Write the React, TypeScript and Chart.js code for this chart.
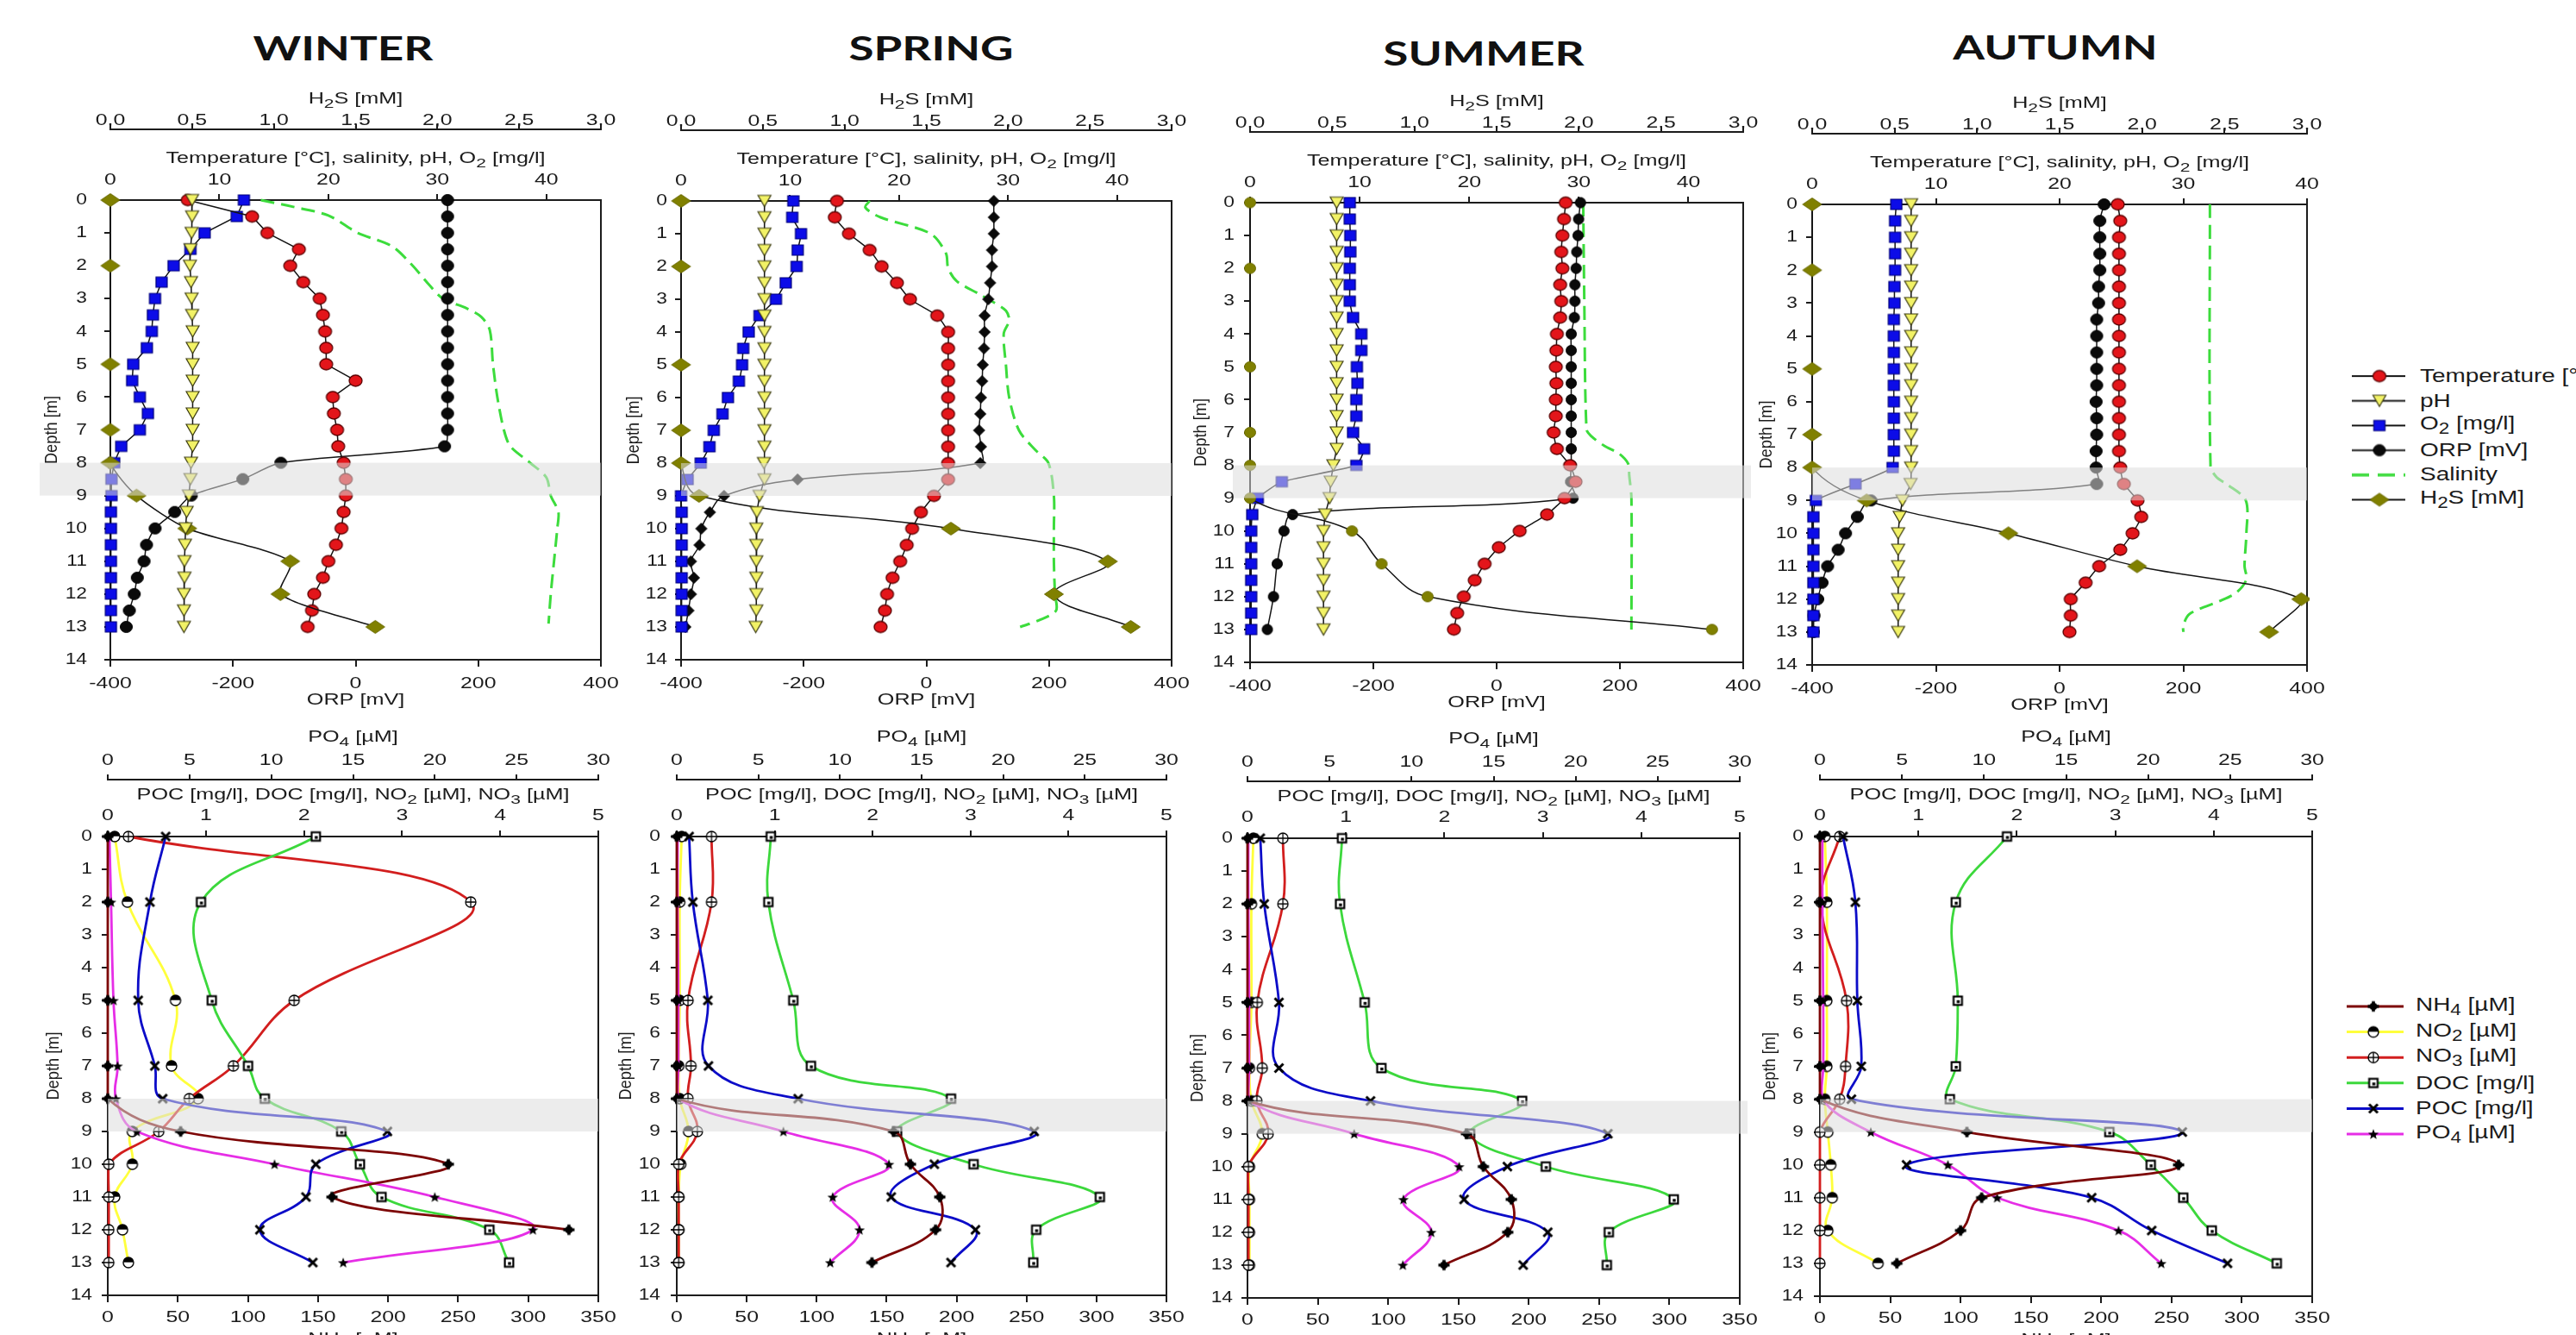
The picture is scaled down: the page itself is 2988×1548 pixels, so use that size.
import React, { useEffect, useRef } from 'react';
import { Chart, registerables } from 'chart.js';

Chart.register(...registerables);

/* ============================ DATA ============================ */
const PROBE_DEPTHS = [0, 0.5, 1, 1.5, 2, 2.5, 3, 3.5, 4, 4.5, 5, 5.5, 6, 6.5, 7, 7.5, 8, 8.5, 9, 9.5, 10, 10.5, 11, 11.5, 12, 12.5, 13];
const SAMPLE_DEPTHS = [0, 2, 5, 7, 8, 9, 10, 11, 12, 13];

const DEPTH_TICKS = [0, 1, 2, 3, 4, 5, 6, 7, 8, 9, 10, 11, 12, 13, 14];
const H2S_TICKS = [0, 0.5, 1, 1.5, 2, 2.5, 3];
const TEMP_TICKS = [0, 10, 20, 30, 40];
const ORP_TICKS = [-400, -200, 0, 200, 400];
const PO4_TICKS = [0, 5, 10, 15, 20, 25, 30];
const CONC_TICKS = [0, 1, 2, 3, 4, 5];
const NH4_TICKS = [0, 50, 100, 150, 200, 250, 300, 350];

const SEASONS = ['WINTER', 'SPRING', 'SUMMER', 'AUTUMN'];

// ---- Winter, probe ----
const WINTER_TEMP = [7.1, 13.0, 14.4, 17.3, 16.5, 17.7, 19.2, 19.5, 19.7, 19.8, 19.8, 22.5, 20.4, 20.5, 20.8, 20.9, 21.4, 21.6, 21.6, 21.4, 21.2, 20.7, 20.0, 19.5, 18.7, 18.5, 18.1];
const WINTER_PH = [7.5, 7.5, 7.45, 7.35, 7.3, 7.4, 7.45, 7.5, 7.55, 7.55, 7.55, 7.55, 7.55, 7.55, 7.55, 7.55, 7.4, 7.35, 7.2, 7.0, 6.9, 6.85, 6.8, 6.8, 6.75, 6.75, 6.75];
const WINTER_O2 = [12.25, 11.6, 8.65, 7.35, 5.8, 4.7, 4.1, 3.9, 3.8, 3.35, 2.1, 2.0, 2.7, 3.45, 2.7, 1.0, 0.35, 0.1, 0.1, 0.05, 0.05, 0.05, 0.05, 0.05, 0.05, 0.05, 0.05];
const WINTER_ORP = [150, 150, 150, 150, 150, 150, 150, 150, 150, 150, 150, 150, 150, 150, 150, 145, -122, -184, -268, -295, -327, -341, -345, -356, -361, -369, -374];
const WINTER_SAL_DEPTHS = [0, 0.2, 0.47, 1, 1.4, 1.95, 2.6, 3.0, 3.3, 3.55, 3.95, 5, 6, 7, 7.5, 8, 8.45, 9, 9.5, 10, 11, 12, 12.9];
const WINTER_SAL = [13.8, 16.7, 20.0, 22.7, 25.8, 27.6, 29.3, 30.5, 32.7, 34.0, 34.8, 35.1, 35.5, 36.1, 36.7, 38.5, 40.0, 40.4, 41.1, 41.0, 40.7, 40.4, 40.2];
const WINTER_H2S = [0, 0, 0, 0, 0, 0.16, 0.47, 1.10, 1.04, 1.62];

// ---- Spring, probe ----
const SPRING_TEMP = [14.3, 14.1, 15.4, 17.3, 18.4, 19.8, 21.0, 23.5, 24.5, 24.5, 24.5, 24.5, 24.5, 24.5, 24.5, 24.5, 24.5, 24.5, 23.2, 22.0, 21.2, 20.7, 20.1, 19.4, 18.9, 18.7, 18.3];
const SPRING_PH = [7.65, 7.65, 7.65, 7.65, 7.65, 7.65, 7.65, 7.65, 7.65, 7.65, 7.65, 7.65, 7.65, 7.65, 7.65, 7.65, 7.6, 7.65, 7.2, 6.95, 6.9, 6.9, 6.9, 6.9, 6.9, 6.9, 6.85];
const SPRING_O2 = [10.3, 10.2, 11.0, 10.7, 10.6, 9.6, 8.7, 7.2, 6.2, 5.7, 5.6, 5.3, 4.3, 3.8, 3.0, 2.6, 1.8, 0.6, 0.0, 0.05, 0.05, 0.05, 0.05, 0.05, 0.05, 0.05, 0.05];
const SPRING_ORP = [110, 110, 110, 107, 107, 104, 101, 95, 95, 94, 92, 91, 89, 88, 86, 89, 88, -210, -330, -353, -367, -370, -384, -379, -384, -388, -393];
const SPRING_SAL_DEPTHS = [0, 0.2, 0.5, 1, 1.6, 2.05, 2.45, 2.85, 3.1, 3.35, 3.65, 4.05, 5, 6, 7, 7.6, 8, 9, 10, 11, 12, 12.5, 12.8, 13];
const SPRING_SAL = [17.3, 16.9, 18.3, 22.9, 24.3, 24.5, 25.3, 27.4, 28.7, 29.8, 30.1, 29.6, 29.8, 30.1, 31.0, 32.5, 33.7, 34.2, 34.2, 34.2, 34.3, 34.4, 32.8, 31.1];
const SPRING_H2S = [0, 0, 0, 0, 0, 0.11, 1.65, 2.61, 2.28, 2.75];

// ---- Summer, probe ----
const SUMMER_TEMP = [28.8, 28.65, 28.5, 28.4, 28.5, 28.3, 28.4, 28.3, 28.0, 27.95, 27.9, 27.95, 27.9, 27.9, 27.7, 28.0, 29.2, 29.7, 28.7, 27.1, 24.6, 22.7, 21.4, 20.5, 19.5, 18.9, 18.6];
const SUMMER_PH = [7.9, 7.9, 7.9, 7.9, 7.9, 7.9, 7.9, 7.9, 7.9, 7.9, 7.9, 7.9, 7.9, 7.9, 7.9, 7.9, 7.6, 7.35, 7.25, 6.85, 6.7, 6.7, 6.7, 6.7, 6.7, 6.7, 6.7];
const SUMMER_O2 = [9.1, 9.1, 9.15, 9.15, 9.1, 9.1, 9.1, 9.4, 10.15, 10.15, 9.75, 9.8, 9.7, 9.7, 9.4, 10.4, 9.7, 2.9, 0.7, 0.2, 0.1, 0.1, 0.1, 0.1, 0.1, 0.1, 0.1];
const SUMMER_ORP = [136, 133, 132, 130, 129, 127, 127, 126, 121, 121, 121, 121, 121, 121, 121, 121, 121, 120, 124, -331, -345, null, -356, null, -362, null, -372];
const SUMMER_SAL_DEPTHS = [0, 3, 6.9, 7.1, 7.4, 7.65, 7.95, 8.3, 9, 13];
const SUMMER_SAL = [30.4, 30.5, 30.7, 31.1, 32.3, 33.7, 34.5, 34.6, 34.8, 34.8];
const SUMMER_H2S = [0, 0, 0, 0, 0, 0, 0.62, 0.80, 1.08, 2.81];

// ---- Autumn, probe ----
const AUTUMN_TEMP = [24.7, 24.9, 24.8, 24.8, 24.8, 24.8, 24.8, 24.8, 24.8, 24.8, 24.8, 24.8, 24.8, 24.8, 24.8, 24.8, 24.9, 25.2, 26.3, 26.6, 25.9, 24.9, 23.2, 22.1, 20.9, 20.9, 20.8];
const AUTUMN_PH = [8.0, 8.0, 8.0, 8.0, 8.0, 8.0, 8.0, 8.0, 8.0, 8.0, 8.0, 8.0, 8.0, 8.0, 8.0, 8.0, 8.0, 7.95, 7.3, 7.07, 6.95, 6.95, 6.95, 6.95, 6.95, 6.95, 6.95];
const AUTUMN_O2 = [6.8, 6.7, 6.7, 6.7, 6.7, 6.65, 6.65, 6.6, 6.6, 6.6, 6.6, 6.6, 6.6, 6.6, 6.6, 6.6, 6.5, 3.5, 0.3, 0.1, 0.1, 0.1, 0.1, 0.1, 0.1, 0.1, 0.1];
const AUTUMN_ORP = [72, 65, 65, 65, 65, 63, 63, 60, 60, 60, 60, 60, 59, 60, 60, 59, 59, 60, -305, -327, -346, -358, -375, -384, -391, -397, -398];
const AUTUMN_SAL_DEPTHS = [0, 7.95, 8.3, 8.5, 9, 10, 11, 11.4, 11.8, 12.05, 12.45, 12.8, 13];
const AUTUMN_SAL = [32.15, 32.2, 32.7, 33.5, 35.05, 35.1, 34.95, 35.1, 34.3, 33.0, 30.5, 30.0, 30.0];
const AUTUMN_H2S = [0, 0, 0, 0, 0, 0.33, 1.19, 1.97, 2.965, 2.77];

// ---- Water samples (at SAMPLE_DEPTHS) ----
const WINTER_NH4 = [0, 0, 0, 0, 0, 52, 243, 160, 329, null];
const WINTER_NO2 = [0.07, 0.2, 0.69, 0.65, 0.92, 0.25, 0.25, 0.07, 0.15, 0.21];
const WINTER_NO3 = [0.21, 3.70, 1.90, 1.28, 0.83, 0.52, 0.01, 0.01, 0.01, 0.01];
const WINTER_DOC = [2.12, 0.95, 1.06, 1.43, 1.60, 2.38, 2.57, 2.79, 3.89, 4.09];
const WINTER_POC = [0.59, 0.43, 0.31, 0.48, 0.56, 2.85, 2.12, 2.02, 1.55, 2.09];
const WINTER_PO4 = [0.1, 0.2, 0.35, 0.6, 0.5, 1.77, 10.2, 20.0, 26.0, 14.4];

const SPRING_NH4 = [0, 0, 0, 0, 0, 155, 167, 188, 185, 139.5];
const SPRING_NO2 = [0.05, 0.03, 0.03, 0.02, 0.03, 0.12, 0.04, 0.02, 0.02, 0.02];
const SPRING_NO3 = [0.355, 0.355, 0.115, 0.145, 0.115, 0.21, 0.02, 0.02, 0.02, 0.02];
const SPRING_DOC = [0.96, 0.935, 1.19, 1.37, 2.80, 2.25, 3.03, 4.32, 3.67, 3.64];
const SPRING_POC = [0.126, 0.164, 0.317, 0.324, 1.24, 3.65, 2.63, 2.19, 3.05, 2.80];
const SPRING_PO4 = [0.05, 0.05, 0.1, 0.1, 0.1, 6.53, 13.0, 9.55, 11.2, 9.4];

const SUMMER_NH4 = [0, 0, 0, 0, 0, 155.7, 167.7, 187.6, 185, 139.7];
const SUMMER_NO2 = [0.06, 0.04, 0.04, 0.02, 0.04, 0.15, 0.02, 0.02, 0.02, 0.02];
const SUMMER_NO3 = [0.36, 0.36, 0.10, 0.15, 0.095, 0.21, 0.01, 0.01, 0.01, 0.01];
const SUMMER_DOC = [0.96, 0.94, 1.19, 1.36, 2.79, 2.26, 3.03, 4.33, 3.67, 3.65];
const SUMMER_POC = [0.13, 0.17, 0.32, 0.32, 1.25, 3.66, 2.64, 2.2, 3.05, 2.8];
const SUMMER_PO4 = [0.05, 0.05, 0.1, 0.1, 0.1, 6.5, 12.9, 9.5, 11.2, 9.47];

const AUTUMN_NH4 = [0, 0, 0, 0, 0, 104.5, 255, 115, 100, 54.7];
const AUTUMN_NO2 = [0.05, 0.07, 0.07, 0.07, 0.05, 0.08, 0.11, 0.125, 0.08, 0.59];
const AUTUMN_NO3 = [0.20, 0.01, 0.27, 0.26, 0.2, 0, 0, 0, 0, 0];
const AUTUMN_DOC = [1.90, 1.38, 1.40, 1.38, 1.32, 2.94, 3.36, 3.69, 3.98, 4.64];
const AUTUMN_POC = [0.235, 0.36, 0.38, 0.42, 0.32, 3.68, 0.88, 2.76, 3.37, 4.14];
const AUTUMN_PO4 = [0.15, 0.15, 0.2, 0.2, 0.15, 3.1, 7.8, 10.8, 18.2, 20.8];

/* ============================ STYLE ============================ */
const FONT = "'Liberation Sans', Arial, Helvetica, sans-serif";
const INK = '#1b1b1b';
const AXIS = '#1c1c1c';
const LINE_BLACK = '#141414';
const SAL_GREEN = '#3cdc3c';
const NH4_C = '#7d0606';
const NO2_C = '#ffff3c';
const NO3_C = '#d21e1e';
const DOC_C = '#3cd83c';
const POC_C = '#0c0cc8';
const PO4_C = '#e62ee6';
const BAND = 'rgba(220,220,220,0.55)';

type MarkerSpec = [string, number, number, string, string, number];
const MK_TEMP: MarkerSpec = ['circle', 15, 13, '#e3151a', '#5a0000', 1.3];
const MK_PH: MarkerSpec = ['triDown', 15, 13, '#f2f266', '#3a3a10', 1.2];
const MK_O2: MarkerSpec = ['square', 13, 12, '#0c0ce8', '#00007a', 1.2];
const MK_ORP: MarkerSpec = ['circle', 14, 13, '#0a0a0a', '#000000', 1];
const MK_ORP_SP: MarkerSpec = ['diamond', 13, 13, '#0a0a0a', '#000000', 1];
const MK_ORP_SU: MarkerSpec = ['circle', 12, 12, '#0a0a0a', '#000000', 1];
const MK_H2S: MarkerSpec = ['diamond', 22, 15, '#808000', '#6a6a00', 1];
const MK_H2S_SU: MarkerSpec = ['circle', 13, 12, '#808000', '#6a6a00', 1];
const MK_NH4: MarkerSpec = ['nh4', 13, 12, '#000000', '#000000', 1];
const MK_NO2: MarkerSpec = ['halfCircle', 12, 12, '#ffffff', '#000000', 1.4];
const MK_NO3: MarkerSpec = ['circlePlus', 12, 12, '#ffffff', '#000000', 1.3];
const MK_DOC: MarkerSpec = ['squareDot', 12, 12, '#000000', '#000000', 1];
const MK_POC: MarkerSpec = ['x', 12, 12, '#000000', '#000000', 3];
const MK_PO4: MarkerSpec = ['star', 13, 12, '#000000', '#000000', 1];

function makeMarker(spec: MarkerSpec): HTMLCanvasElement {
  const [kind, w, h, fill, stroke, lw] = spec;
  const c = document.createElement('canvas');
  const W = Math.ceil(w + lw + 2);
  const H = Math.ceil(h + lw + 2);
  c.width = W;
  c.height = H;
  const g = c.getContext('2d') as CanvasRenderingContext2D;
  const cx = W / 2, cy = H / 2, rx = w / 2, ry = h / 2;
  g.fillStyle = fill;
  g.strokeStyle = stroke;
  g.lineWidth = lw;
  const ell = (r = 1) => { g.beginPath(); g.ellipse(cx, cy, rx * r, ry * r, 0, 0, Math.PI * 2); };
  switch (kind) {
    case 'circle': ell(); g.fill(); g.stroke(); break;
    case 'triDown':
      g.beginPath(); g.moveTo(cx - rx, cy - ry); g.lineTo(cx + rx, cy - ry); g.lineTo(cx, cy + ry); g.closePath();
      g.fill(); g.stroke(); break;
    case 'square': g.beginPath(); g.rect(cx - rx, cy - ry, w, h); g.fill(); g.stroke(); break;
    case 'diamond':
      g.beginPath(); g.moveTo(cx, cy - ry); g.lineTo(cx + rx, cy); g.lineTo(cx, cy + ry); g.lineTo(cx - rx, cy); g.closePath();
      g.fill(); g.stroke(); break;
    case 'circlePlus':
      ell(); g.fill(); g.stroke();
      g.beginPath(); g.moveTo(cx - rx, cy); g.lineTo(cx + rx, cy); g.moveTo(cx, cy - ry); g.lineTo(cx, cy + ry); g.stroke(); break;
    case 'halfCircle':
      ell(); g.fill();
      g.save(); ell(); g.clip(); g.fillStyle = '#000'; g.fillRect(cx - rx, cy - ry, w, ry * 0.95); g.restore();
      ell(); g.stroke(); break;
    case 'squareDot':
      g.fillStyle = '#000'; g.fillRect(cx - rx, cy - ry, w, h);
      g.fillStyle = '#fff'; g.fillRect(cx - rx + 2.2, cy - ry + 2.2, w - 4.4, h - 4.4);
      g.fillStyle = '#000'; g.fillRect(cx - 1.2, cy - 0.6, 3.4, 3.4); break;
    case 'x':
      g.beginPath(); g.moveTo(cx - rx + 1, cy - ry + 1); g.lineTo(cx + rx - 1, cy + ry - 1);
      g.moveTo(cx + rx - 1, cy - ry + 1); g.lineTo(cx - rx + 1, cy + ry - 1); g.stroke(); break;
    case 'star': {
      g.beginPath();
      for (let k = 0; k < 10; k++) {
        const r = k % 2 === 0 ? 1 : 0.42;
        const a = -Math.PI / 2 + (k * Math.PI) / 5;
        const px = cx + Math.cos(a) * rx * r;
        const py = cy + 0.6 + Math.sin(a) * ry * r * 1.05;
        if (k === 0) g.moveTo(px, py); else g.lineTo(px, py);
      }
      g.closePath(); g.fill(); break;
    }
    case 'nh4':
      ell(0.72); g.fill();
      g.lineWidth = 3.6; g.beginPath(); g.moveTo(cx - rx, cy); g.lineTo(cx + rx, cy); g.moveTo(cx, cy - ry); g.lineTo(cx, cy + ry); g.stroke(); break;
  }
  return c;
}

/* ============================ LAYOUT ============================ */
type Geom = { L: number; T: number; R: number; B: number; gap: number; dtx: number; bandL: number; bandR: number };
const GEO_TOP: Geom[] = [
  { L: 128, T: 232, R: 697, B: 765, gap: 27, dtx: 68, bandL: 82, bandR: 0 },
  { L: 790, T: 233, R: 1359, B: 765, gap: 16, dtx: 55, bandL: 0, bandR: 0 },
  { L: 1450, T: 235, R: 2022, B: 768, gap: 18, dtx: 57, bandL: 20, bandR: 9 },
  { L: 2102, T: 237, R: 2676, B: 771, gap: 17, dtx: 53, bandL: 0, bandR: 0 },
];
const GEO_BOT: Geom[] = [
  { L: 125, T: 970, R: 694, B: 1502, gap: 18, dtx: 63, bandL: 0, bandR: 0 },
  { L: 785, T: 970, R: 1353, B: 1502, gap: 19, dtx: 59, bandL: 0, bandR: 0 },
  { L: 1447, T: 972, R: 2018, B: 1505, gap: 17, dtx: 58, bandL: 0, bandR: 9 },
  { L: 2111, T: 970, R: 2682, B: 1503, gap: 19, dtx: 58, bandL: 0, bandR: 0 },
];
const TITLE_POS = [[398, 55], [1080, 55], [1721, 61], [2384, 54]];
const LEFT_W = 110;
const RIGHT_PAD = 40;
const ROW_TOP = { outer: 58, inner: 82, bottom: 62 };
const ROW_BOT = { outer: 64, inner: 66, bottom: 72 };

type Part = { t: string; sub?: boolean };
interface AxisDef {
  id: string; position: 'top' | 'bottom'; weight: number; size: number; min: number; max: number;
  ticks: number[]; fmt: (v: number) => string; tickLen: number; labelOff: number; title: Part[]; titleOff: number;
}
interface SeriesDef {
  axis: string; xs: (number | null)[]; ys: number[]; color: string; width: number; dash?: number[];
  tension: number; marker: MarkerSpec | null;
}

const commaFmt = (v: number) => v.toFixed(1).replace('.', ',');

function topAxes(tempMax: number): AxisDef[] {
  return [
    { id: 'xt2', position: 'top', weight: 2, size: ROW_TOP.outer, min: 0, max: 3, ticks: H2S_TICKS, fmt: commaFmt, tickLen: 6,
      labelOff: -92, title: [{ t: 'H' }, { t: '2', sub: true }, { t: 'S [mM]' }], titleOff: -117 },
    { id: 'xt', position: 'top', weight: 1, size: ROW_TOP.inner, min: 0, max: tempMax, ticks: TEMP_TICKS, fmt: String, tickLen: 7,
      labelOff: -23, title: [{ t: 'Temperature [°C], salinity, pH, O' }, { t: '2', sub: true }, { t: ' [mg/l]' }], titleOff: -47.5 },
    { id: 'x', position: 'bottom', weight: 1, size: ROW_TOP.bottom, min: -400, max: 400, ticks: ORP_TICKS, fmt: String, tickLen: 8,
      labelOff: 28, title: [{ t: 'ORP [mV]' }], titleOff: 47 },
  ];
}
function bottomAxes(): AxisDef[] {
  return [
    { id: 'xt2', position: 'top', weight: 2, size: ROW_BOT.outer, min: 0, max: 30, ticks: PO4_TICKS, fmt: String, tickLen: 6,
      labelOff: -88, title: [{ t: 'PO' }, { t: '4', sub: true }, { t: ' [µM]' }], titleOff: -114.5 },
    { id: 'xt', position: 'top', weight: 1, size: ROW_BOT.inner, min: 0, max: 5, ticks: CONC_TICKS, fmt: String, tickLen: 7,
      labelOff: -23.5, title: [{ t: 'POC [mg/l], DOC [mg/l], NO' }, { t: '2', sub: true }, { t: ' [µM], NO' }, { t: '3', sub: true }, { t: ' [µM]' }], titleOff: -47.5 },
    { id: 'x', position: 'bottom', weight: 1, size: ROW_BOT.bottom, min: 0, max: 350, ticks: NH4_TICKS, fmt: String, tickLen: 8,
      labelOff: 26.5, title: [{ t: 'NH' }, { t: '4', sub: true }, { t: ' [µM]' }], titleOff: 51 },
  ];
}

function topSeries(temp: number[], ph: number[], o2: number[], orp: (number | null)[], salD: number[], sal: number[], h2s: number[],
  orpMk: MarkerSpec, h2sMk: MarkerSpec, tSmooth: number, tTemp: number): SeriesDef[] {
  return [
    { axis: 'xt', xs: ph, ys: PROBE_DEPTHS, color: LINE_BLACK, width: 1.5, tension: 0, marker: MK_PH },
    { axis: 'xt2', xs: h2s, ys: SAMPLE_DEPTHS, color: LINE_BLACK, width: 1.5, tension: tSmooth, marker: h2sMk },
    { axis: 'xt', xs: temp, ys: PROBE_DEPTHS, color: LINE_BLACK, width: 1.5, tension: tTemp, marker: MK_TEMP },
    { axis: 'xt', xs: o2, ys: PROBE_DEPTHS, color: LINE_BLACK, width: 1.5, tension: tTemp, marker: MK_O2 },
    { axis: 'x', xs: orp, ys: PROBE_DEPTHS, color: LINE_BLACK, width: 1.5, tension: tSmooth, marker: orpMk },
    { axis: 'xt', xs: sal, ys: salD, color: SAL_GREEN, width: 3, dash: [16, 8], tension: 0.3, marker: null },
  ];
}
function bottomSeries(nh4: (number | null)[], no2: number[], no3: number[], doc: number[], poc: number[], po4: number[]): SeriesDef[] {
  return [
    { axis: 'x', xs: nh4, ys: SAMPLE_DEPTHS, color: NH4_C, width: 2.8, tension: 0.4, marker: MK_NH4 },
    { axis: 'xt', xs: poc, ys: SAMPLE_DEPTHS, color: POC_C, width: 2.8, tension: 0.4, marker: MK_POC },
    { axis: 'xt2', xs: po4, ys: SAMPLE_DEPTHS, color: PO4_C, width: 2.8, tension: 0.4, marker: MK_PO4 },
    { axis: 'xt', xs: doc, ys: SAMPLE_DEPTHS, color: DOC_C, width: 2.8, tension: 0.4, marker: MK_DOC },
    { axis: 'xt', xs: no3, ys: SAMPLE_DEPTHS, color: NO3_C, width: 2.8, tension: 0.4, marker: MK_NO3 },
    { axis: 'xt', xs: no2, ys: SAMPLE_DEPTHS, color: NO2_C, width: 2.8, tension: 0.4, marker: MK_NO2 },
  ];
}

function seriesFor(row: 'top' | 'bot', i: number): SeriesDef[] {
  if (row === 'top') {
    if (i === 0) return topSeries(WINTER_TEMP, WINTER_PH, WINTER_O2, WINTER_ORP, WINTER_SAL_DEPTHS, WINTER_SAL, WINTER_H2S, MK_ORP, MK_H2S, 0.25, 0);
    if (i === 1) return topSeries(SPRING_TEMP, SPRING_PH, SPRING_O2, SPRING_ORP, SPRING_SAL_DEPTHS, SPRING_SAL, SPRING_H2S, MK_ORP_SP, MK_H2S, 0.4, 0.15);
    if (i === 2) return topSeries(SUMMER_TEMP, SUMMER_PH, SUMMER_O2, SUMMER_ORP, SUMMER_SAL_DEPTHS, SUMMER_SAL, SUMMER_H2S, MK_ORP_SU, MK_H2S_SU, 0.4, 0.15);
    return topSeries(AUTUMN_TEMP, AUTUMN_PH, AUTUMN_O2, AUTUMN_ORP, AUTUMN_SAL_DEPTHS, AUTUMN_SAL, AUTUMN_H2S, MK_ORP, MK_H2S, 0.35, 0.15);
  }
  if (i === 0) return bottomSeries(WINTER_NH4, WINTER_NO2, WINTER_NO3, WINTER_DOC, WINTER_POC, WINTER_PO4);
  if (i === 1) return bottomSeries(SPRING_NH4, SPRING_NO2, SPRING_NO3, SPRING_DOC, SPRING_POC, SPRING_PO4);
  if (i === 2) return bottomSeries(SUMMER_NH4, SUMMER_NO2, SUMMER_NO3, SUMMER_DOC, SUMMER_POC, SUMMER_PO4);
  return bottomSeries(AUTUMN_NH4, AUTUMN_NO2, AUTUMN_NO3, AUTUMN_DOC, AUTUMN_POC, AUTUMN_PO4);
}

/* ============================ TEXT HELPERS ============================ */
function drawStretched(ctx: CanvasRenderingContext2D, text: string, x: number, y: number, size: number, stretch: number, align: CanvasTextAlign) {
  ctx.save();
  ctx.translate(x, y);
  ctx.scale(stretch, 1);
  ctx.font = `${size}px ${FONT}`;
  ctx.fillStyle = INK;
  ctx.textAlign = align;
  ctx.textBaseline = 'middle';
  ctx.fillText(text, 0, 0);
  ctx.restore();
}
function drawRich(ctx: CanvasRenderingContext2D, parts: Part[], x: number, y: number, size: number, stretch: number, rotate = false) {
  ctx.save();
  ctx.translate(x, y);
  if (rotate) ctx.rotate(-Math.PI / 2);
  ctx.scale(stretch, 1);
  ctx.fillStyle = INK;
  ctx.textAlign = 'left';
  ctx.textBaseline = 'middle';
  const fonts = parts.map((p) => `${p.sub ? Math.round(size * 0.82) : size}px ${FONT}`);
  let total = 0;
  const ws = parts.map((p, k) => { ctx.font = fonts[k]; const w = ctx.measureText(p.t).width; total += w; return w; });
  let cx = -total / 2;
  parts.forEach((p, k) => { ctx.font = fonts[k]; ctx.fillText(p.t, cx, p.sub ? size * 0.32 : 0); cx += ws[k]; });
  ctx.restore();
}

function decorPlugin(axes: AxisDef[], g: Geom) {
  return {
    id: 'decor',
    beforeDatasetsDraw(chart: any) {
      const { ctx, chartArea: a } = chart;
      ctx.save();
      ctx.strokeStyle = AXIS;
      ctx.lineWidth = 2;
      ctx.beginPath();
      ctx.moveTo(a.right, a.top - 1);
      ctx.lineTo(a.right, a.bottom + 1);
      ctx.stroke();
      ctx.restore();
    },
    afterDatasetsDraw(chart: any) {
      const { ctx, chartArea: a } = chart;
      const ys = chart.scales.y;
      const y8 = ys.getPixelForValue(8);
      const y9 = ys.getPixelForValue(9);
      ctx.save();
      ctx.fillStyle = BAND;
      ctx.fillRect(a.left - g.bandL, y8, a.right - a.left + g.bandL + g.bandR, y9 - y8);
      ctx.restore();
    },
    afterDraw(chart: any) {
      const { ctx, chartArea: a } = chart;
      const ys = chart.scales.y;
      for (const v of DEPTH_TICKS) drawStretched(ctx, String(v), a.left - g.gap, ys.getPixelForValue(v), 19, 1.2, 'right');
      drawRich(ctx, [{ t: 'Depth [m]' }], a.left - g.dtx, (a.top + a.bottom) / 2, 21, 0.87, true);
      for (const ax of axes) {
        const sc = chart.scales[ax.id];
        const base = ax.position === 'top' ? a.top : a.bottom;
        for (const v of ax.ticks) drawStretched(ctx, ax.fmt(v), sc.getPixelForValue(v), base + ax.labelOff, 18, 1.38, 'center');
        drawRich(ctx, ax.title, (a.left + a.right) / 2, base + ax.titleOff, 18, 1.4);
      }
    },
  };
}

/* ============================ PANEL ============================ */
function Panel({ row, index }: { row: 'top' | 'bot'; index: number }) {
  const ref = useRef<HTMLCanvasElement>(null);
  const g = row === 'top' ? GEO_TOP[index] : GEO_BOT[index];
  const rc = row === 'top' ? ROW_TOP : ROW_BOT;
  const topTotal = rc.outer + rc.inner;
  const w = g.R - g.L + LEFT_W + RIGHT_PAD;
  const h = g.B - g.T + topTotal + rc.bottom;

  useEffect(() => {
    const axes = row === 'top' ? topAxes(index === 3 ? 40 : 45) : bottomAxes();
    const series = seriesFor(row, index);
    const tickGrid = (len: number) => ({ drawOnChartArea: false, drawTicks: true, tickLength: len, color: AXIS, lineWidth: 2 });
    const scales: any = {
      y: {
        type: 'linear', position: 'left', reverse: true, min: 0, max: 14,
        afterBuildTicks: (s: any) => { s.ticks = DEPTH_TICKS.map((v) => ({ value: v })); },
        ticks: { display: false },
        grid: tickGrid(7),
        border: { display: true, color: AXIS, width: 2 },
        title: { display: false },
        afterFit: (s: any) => { s.width = LEFT_W; },
      },
    };
    for (const ax of axes) {
      scales[ax.id] = {
        type: 'linear', axis: 'x', position: ax.position, weight: ax.weight, min: ax.min, max: ax.max,
        afterBuildTicks: (s: any) => { s.ticks = ax.ticks.map((v) => ({ value: v })); },
        ticks: { display: false },
        grid: tickGrid(ax.tickLen),
        border: { display: true, color: AXIS, width: 2 },
        title: { display: false },
        afterFit: (s: any) => { s.height = ax.size; },
      };
    }
    const datasets = series.map((s) => {
      const mk = s.marker ? makeMarker(s.marker) : null;
      return {
        data: s.ys.map((y, k) => ({ x: s.xs[k], y })).filter((p) => p.x !== null && p.x !== undefined),
        xAxisID: s.axis,
        yAxisID: 'y',
        showLine: true,
        fill: false,
        borderColor: s.color,
        borderWidth: s.width,
        borderDash: s.dash || [],
        tension: s.tension,
        pointStyle: mk || 'circle',
        pointRadius: mk ? 6 : 0,
        pointHoverRadius: mk ? 6 : 0,
        pointBorderWidth: 0,
        clip: { left: 14, right: 3, top: 14, bottom: 14 },
      };
    });
    const chart = new Chart(ref.current as HTMLCanvasElement, {
      type: 'scatter',
      data: { datasets } as any,
      options: {
        responsive: false,
        animation: false,
        devicePixelRatio: 1,
        events: [],
        layout: { padding: { left: 0, right: RIGHT_PAD, top: 0, bottom: 0 } },
        plugins: { legend: { display: false }, tooltip: { enabled: false } },
        scales,
      } as any,
      plugins: [decorPlugin(axes, g)],
    });
    return () => chart.destroy();
  }, [row, index]);

  return (
    <canvas
      ref={ref}
      width={w}
      height={h}
      style={{ position: 'absolute', left: g.L - LEFT_W, top: g.T - topTotal, width: w, height: h }}
    />
  );
}

/* ============================ LEGENDS ============================ */
type LegendItem = { label: React.ReactNode; color: string; width: number; dash?: number[]; marker: MarkerSpec | null };
const SUB = { fontSize: '0.8em', verticalAlign: '-0.3em' };
const TOP_LEGEND: LegendItem[] = [
  { label: <>Temperature [°C]</>, color: LINE_BLACK, width: 2, marker: MK_TEMP },
  { label: <>pH</>, color: LINE_BLACK, width: 2, marker: MK_PH },
  { label: <>O<sub style={SUB}>2</sub> [mg/l]</>, color: LINE_BLACK, width: 2, marker: MK_O2 },
  { label: <>ORP [mV]</>, color: LINE_BLACK, width: 2, marker: MK_ORP },
  { label: <>Salinity</>, color: SAL_GREEN, width: 3.5, dash: [20, 10], marker: null },
  { label: <>H<sub style={SUB}>2</sub>S [mM]</>, color: LINE_BLACK, width: 2, marker: MK_H2S },
];
const BOT_LEGEND: LegendItem[] = [
  { label: <>NH<sub style={SUB}>4</sub> [µM]</>, color: NH4_C, width: 3, marker: MK_NH4 },
  { label: <>NO<sub style={SUB}>2</sub> [µM]</>, color: NO2_C, width: 3, marker: MK_NO2 },
  { label: <>NO<sub style={SUB}>3</sub> [µM]</>, color: NO3_C, width: 3, marker: MK_NO3 },
  { label: <>DOC [mg/l]</>, color: DOC_C, width: 3, marker: MK_DOC },
  { label: <>POC [mg/l]</>, color: POC_C, width: 3, marker: MK_POC },
  { label: <>PO<sub style={SUB}>4</sub> [µM]</>, color: PO4_C, width: 3, marker: MK_PO4 },
];

function Legend({ items, x0, x1, mx, tx, y0, dy }: { items: LegendItem[]; x0: number; x1: number; mx: number; tx: number; y0: number; dy: number }) {
  const ref = useRef<HTMLCanvasElement>(null);
  const left = x0 - 6;
  const top = y0 - 20;
  const cw = x1 - x0 + 12;
  const ch = dy * (items.length - 1) + 40;
  useEffect(() => {
    const c = ref.current as HTMLCanvasElement;
    const g = c.getContext('2d') as CanvasRenderingContext2D;
    g.clearRect(0, 0, cw, ch);
    items.forEach((it, i) => {
      const y = y0 + i * dy - top;
      g.save();
      g.strokeStyle = it.color;
      g.lineWidth = it.width;
      g.setLineDash(it.dash || []);
      g.beginPath();
      g.moveTo(x0 - left, y);
      g.lineTo(x1 - left, y);
      g.stroke();
      g.restore();
      if (it.marker) {
        const m = makeMarker(it.marker);
        g.drawImage(m, mx - left - m.width / 2, y - m.height / 2);
      }
    });
  }, []);
  return (
    <>
      <canvas ref={ref} width={cw} height={ch} style={{ position: 'absolute', left, top, width: cw, height: ch }} />
      {items.map((it, i) => (
        <div
          key={i}
          style={{
            position: 'absolute', left: tx, top: y0 + i * dy, transform: 'translateY(-50%) scaleX(1.27)', transformOrigin: 'left center',
            font: `22px ${FONT}`, color: INK, whiteSpace: 'nowrap', lineHeight: 1,
          }}
        >
          {it.label}
        </div>
      ))}
    </>
  );
}

/* ============================ APP ============================ */
export default function App() {
  return (
    <div style={{ position: 'fixed', left: 0, top: 0, width: 2988, height: 1548, overflow: 'hidden', background: '#ffffff' }}>
      {SEASONS.map((s, i) => (
        <div
          key={s}
          style={{
            position: 'absolute', left: TITLE_POS[i][0], top: TITLE_POS[i][1], transform: 'translate(-50%, -50%) scaleX(1.36)',
            font: `700 39px Lato, 'Open Sans', sans-serif`, color: '#111', whiteSpace: 'nowrap', lineHeight: 1,
          }}
        >
          {s}
        </div>
      ))}
      {[0, 1, 2, 3].map((i) => <Panel key={'t' + i} row="top" index={i} />)}
      {[0, 1, 2, 3].map((i) => <Panel key={'b' + i} row="bot" index={i} />)}
      <Legend items={TOP_LEGEND} x0={2728} x1={2790} mx={2760} tx={2807} y0={436} dy={28.5} />
      <Legend items={BOT_LEGEND} x0={2722} x1={2788} mx={2753} tx={2802} y0={1167} dy={29.6} />
    </div>
  );
}
